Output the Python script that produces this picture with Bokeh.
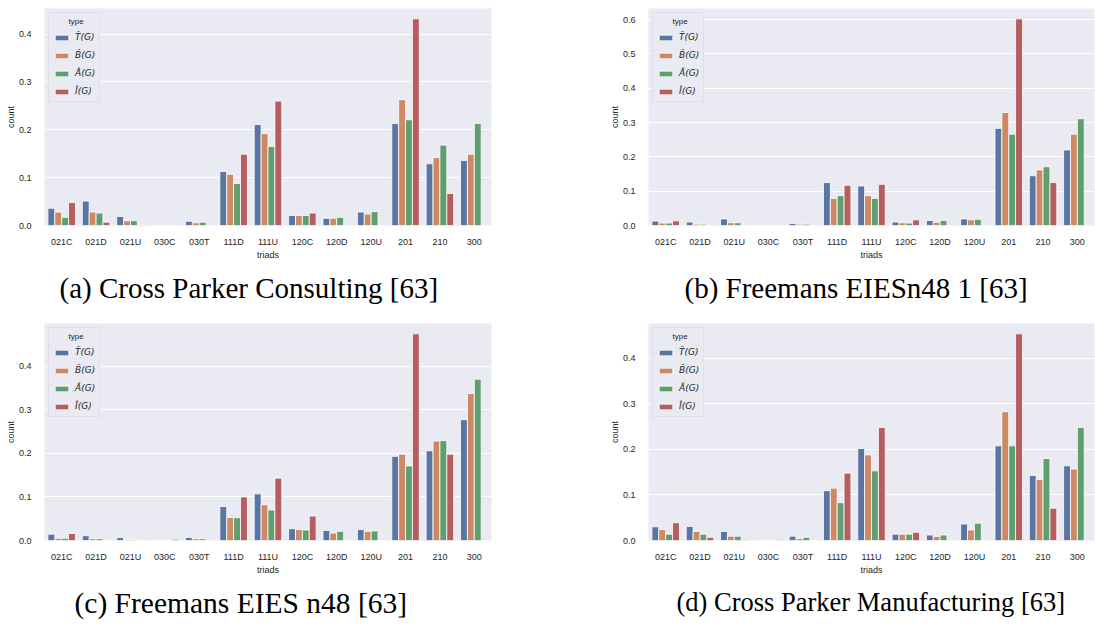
from bokeh.plotting import figure
from bokeh.layouts import column, row
from bokeh.models import ColumnDataSource, FixedTicker, Legend, LegendItem
from bokeh.transform import dodge
from bokeh.embed import file_html
from bokeh.resources import INLINE

# Triad census categories (x axis)
triads = ["021C", "021D", "021U", "030C", "030T", "111D", "111U",
          "120C", "120D", "120U", "201", "210", "300"]

# Series names and colours
types = ["T\u0302(G)", "B\u0302(G)", "A\u0302(G)", "I\u0302(G)"]
colors = ["#5975a4", "#cc8963", "#5f9e6e", "#b55d60"]

# (a) Cross Parker Consulting
a_T = [0.036, 0.051, 0.019, 0.0, 0.009, 0.113, 0.211, 0.021, 0.015, 0.028, 0.213, 0.129, 0.136]
a_B = [0.028, 0.028, 0.010, 0.0, 0.0055, 0.107, 0.192, 0.021, 0.015, 0.024, 0.263, 0.142, 0.149]
a_A = [0.017, 0.026, 0.010, 0.0, 0.007, 0.088, 0.165, 0.021, 0.017, 0.029, 0.221, 0.168, 0.213]
a_I = [0.048, 0.007, 0.001, 0.0, 0.0, 0.149, 0.260, 0.026, 0.0, 0.0, 0.432, 0.067, 0.0]

# (b) Freemans EIESn48 1
b_T = [0.013, 0.010, 0.019, 0.0, 0.006, 0.125, 0.115, 0.010, 0.0145, 0.019, 0.283, 0.145, 0.220]
b_B = [0.007, 0.004, 0.008, 0.0, 0.004, 0.079, 0.087, 0.008, 0.0097, 0.0165, 0.329, 0.162, 0.266]
b_A = [0.007, 0.004, 0.008, 0.0, 0.004, 0.087, 0.079, 0.007, 0.0145, 0.018, 0.266, 0.171, 0.311]
b_I = [0.0136, 0.0, 0.0, 0.0, 0.0, 0.117, 0.120, 0.0165, 0.0, 0.0, 0.602, 0.125, 0.0]

# (c) Freemans EIES n48
c_T = [0.0145, 0.011, 0.007, 0.0, 0.007, 0.078, 0.107, 0.027, 0.023, 0.025, 0.193, 0.206, 0.277]
c_B = [0.005, 0.004, 0.002, 0.0, 0.004, 0.053, 0.082, 0.025, 0.017, 0.021, 0.198, 0.228, 0.337]
c_A = [0.005, 0.004, 0.002, 0.0, 0.004, 0.052, 0.070, 0.024, 0.021, 0.022, 0.171, 0.229, 0.370]
c_I = [0.016, 0.0, 0.0, 0.003, 0.0, 0.100, 0.143, 0.056, 0.0, 0.0, 0.474, 0.198, 0.0]

# (d) Cross Parker Manufacturing
d_T = [0.030, 0.031, 0.020, 0.0, 0.0095, 0.1095, 0.202, 0.014, 0.012, 0.036, 0.208, 0.143, 0.164]
d_B = [0.024, 0.020, 0.0095, 0.0, 0.0044, 0.115, 0.188, 0.014, 0.009, 0.023, 0.283, 0.134, 0.157]
d_A = [0.014, 0.014, 0.0095, 0.0, 0.007, 0.083, 0.153, 0.014, 0.012, 0.038, 0.208, 0.180, 0.248]
d_I = [0.039, 0.007, 0.0015, 0.0015, 0.0, 0.148, 0.248, 0.018, 0.0, 0.0, 0.454, 0.071, 0.0]

# y tick values per panel
ticks_04 = [0.0, 0.1, 0.2, 0.3, 0.4]
ticks_06 = [0.0, 0.1, 0.2, 0.3, 0.4, 0.5, 0.6]

captions = ["(a) Cross Parker Consulting [63]",
            "(b) Freemans EIESn48 1 [63]",
            "(c) Freemans EIES n48 [63]",
            "(d) Cross Parker Manufacturing [63]"]

BG = "#eaeaf2"
TXT = "#262626"
SANS = "Liberation Sans"


def panel(series, ticks, caption, cap_offset, cap_size, width, height,
          left, right, top, bottom):
    data = {"triads": triads}
    keys = ["T", "B", "A", "I"]
    for k, s in zip(keys, series):
        data[k] = s
    src = ColumnDataSource(data)
    ymax = max(max(s) for s in series) * 1.05

    p = figure(x_range=triads, y_range=(0, ymax), width=width, height=height,
               min_border_left=left, min_border_right=right,
               min_border_top=top, min_border_bottom=bottom,
               output_backend="svg", toolbar_location=None,
               title=caption, title_location="below")
    p.background_fill_color = BG
    p.border_fill_color = "white"
    p.outline_line_color = None

    items = []
    offsets = [-0.3, -0.1, 0.1, 0.3]
    for k, off, col, lab in zip(keys, offsets, colors, types):
        r = p.vbar(x=dodge("triads", off, range=p.x_range), top=k, width=0.2,
                   source=src, fill_color=col, line_color="white", line_width=0.8)
        items.append(LegendItem(label=lab, renderers=[r]))

    leg = Legend(items=items, location="top_left",
                 title="\u00a0\u00a0\u00a0\u00a0\u00a0\u00a0\u00a0type",
                 title_text_font=SANS, title_text_font_size="8px",
                 title_text_font_style="normal", title_text_color=TXT,
                 title_standoff=5,
                 label_text_font="DejaVu Sans", label_text_font_style="italic",
                 label_text_font_size="9px", label_text_color=TXT,
                 glyph_width=17, glyph_height=7, label_height=12, label_standoff=5,
                 spacing=6, padding=4, margin=4,
                 background_fill_color=BG, background_fill_alpha=1.0,
                 border_line_color="#d4d4dc", border_line_width=1)
    p.add_layout(leg)

    p.xgrid.grid_line_color = None
    p.ygrid.grid_line_color = "white"
    p.ygrid.grid_line_width = 1
    p.ygrid.ticker = FixedTicker(ticks=ticks)

    p.yaxis.ticker = FixedTicker(ticks=ticks)
    p.yaxis.major_label_overrides = {t: f"{t:.1f}" for t in ticks}
    for ax in (p.xaxis[0], p.yaxis[0]):
        ax.axis_line_color = None
        ax.major_tick_line_color = None
        ax.minor_tick_line_color = None
        ax.major_label_text_font = SANS
        ax.major_label_text_font_size = "9px"
        ax.major_label_text_color = TXT
        ax.axis_label_text_font = SANS
        ax.axis_label_text_font_size = "9px"
        ax.axis_label_text_font_style = "normal"
        ax.axis_label_text_color = TXT
    p.xaxis.major_label_standoff = 5
    p.xaxis.axis_label = "triads"
    p.xaxis.axis_label_standoff = 0
    p.yaxis.major_label_standoff = 7
    p.yaxis.axis_label = "count"
    p.yaxis.axis_label_standoff = 0

    p.title.text_font = "Liberation Serif"
    p.title.text_font_size = cap_size
    p.title.text_font_style = "normal"
    p.title.text_color = "black"
    p.title.align = "left"
    p.title.offset = cap_offset
    p.title.standoff = 14
    return p


pa = panel([a_T, a_B, a_A, a_I], ticks_04, captions[0], 15, "29px", 560, 315, 44, 69, 8, 90)
pb = panel([b_T, b_B, b_A, b_I], ticks_06, captions[1], 36, "29px", 535, 315, 88, 1, 8, 90)
pc = panel([c_T, c_B, c_A, c_I], ticks_04, captions[2], 30, "29.5px", 560, 311, 44, 69, 8, 86)
pd = panel([d_T, d_B, d_A, d_I], ticks_04, captions[3], 28, "26.5px", 535, 311, 88, 1, 8, 86)

layout = column(row(pa, pb, spacing=0), row(pc, pd, spacing=0), spacing=0)

open("out.html", "w").write(file_html(layout, INLINE))
